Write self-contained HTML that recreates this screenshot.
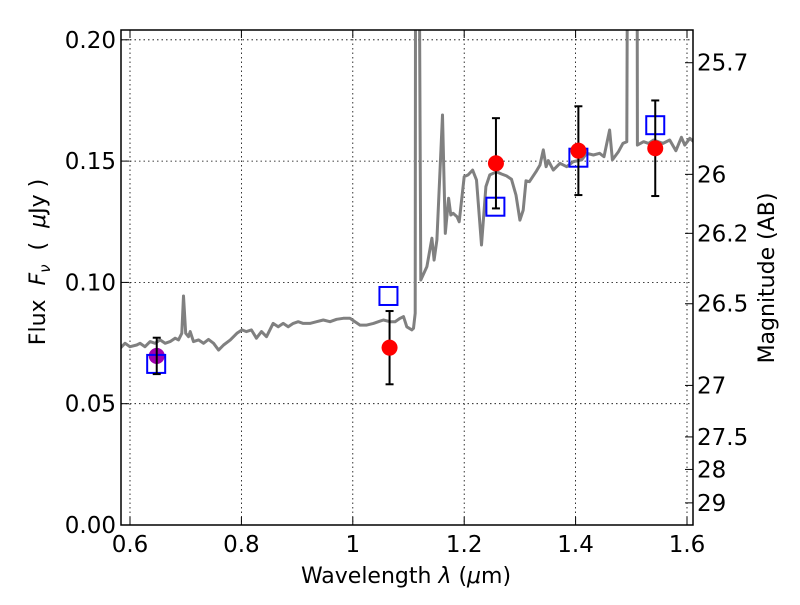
<!DOCTYPE html>
<html><head><meta charset="utf-8"><style>
body{margin:0;background:#fff}
svg text{font-family:"DejaVu Sans","Liberation Sans",sans-serif;fill:#000}
</style></head><body>
<svg id="chart" width="800" height="600" viewBox="0 0 800 600" xmlns="http://www.w3.org/2000/svg">
<defs><clipPath id="clip"><rect x="121" y="30" width="572" height="495"/></clipPath></defs>
<rect width="800" height="600" fill="#fff"/>
<g id="grid"></g>
<g id="spec" clip-path="url(#clip)"></g>
<g id="marks"></g>
<rect x="121" y="30" width="572" height="495" fill="none" stroke="#000" stroke-width="1.5"/>
<g id="axes"></g>
<text x="406" y="583" font-size="22" text-anchor="middle">Wavelength  <tspan font-style="italic">λ</tspan> (<tspan font-style="italic">μ</tspan>m)</text>
<text transform="translate(45,262) rotate(-90)" font-size="22" text-anchor="middle" xml:space="preserve">Flux  <tspan font-style="italic">F</tspan><tspan font-style="italic" font-size="15" dy="5">ν</tspan><tspan dy="-5">  (  </tspan><tspan font-style="italic">μ</tspan>Jy )</text>
<text transform="translate(774,278) rotate(-90)" font-size="22" text-anchor="middle">Magnitude (AB)</text>
</svg>
<script>
const specWave=[0.582,0.591,0.600,0.612,0.618,0.627,0.636,0.645,0.654,0.663,0.672,0.681,0.687,0.693,0.696,0.700,0.705,0.708,0.714,0.723,0.732,0.741,0.750,0.759,0.768,0.780,0.792,0.801,0.809,0.818,0.827,0.836,0.845,0.857,0.866,0.875,0.884,0.893,0.902,0.911,0.923,0.935,0.947,0.959,0.971,0.983,0.995,1.004,1.013,1.025,1.037,1.046,1.055,1.067,1.076,1.085,1.091,1.097,1.106,1.109,1.112,1.113,1.118,1.122,1.133,1.142,1.146,1.151,1.161,1.166,1.172,1.176,1.180,1.187,1.191,1.200,1.207,1.215,1.222,1.231,1.239,1.246,1.258,1.267,1.276,1.285,1.293,1.300,1.306,1.311,1.317,1.330,1.336,1.342,1.347,1.351,1.360,1.372,1.384,1.396,1.411,1.420,1.432,1.443,1.451,1.461,1.466,1.477,1.485,1.492,1.494,1.510,1.511,1.522,1.531,1.540,1.557,1.569,1.580,1.590,1.596,1.605,1.612];
const specFlux=[0.0728,0.0749,0.0735,0.0742,0.0749,0.0735,0.0756,0.0749,0.0763,0.0749,0.0756,0.0770,0.0763,0.0790,0.0944,0.0790,0.0776,0.0797,0.0756,0.0763,0.0749,0.0765,0.0749,0.0721,0.0742,0.0763,0.0790,0.0804,0.0797,0.0804,0.0770,0.0797,0.0776,0.0831,0.0817,0.0831,0.0817,0.0831,0.0838,0.0831,0.0831,0.0838,0.0845,0.0838,0.0848,0.0852,0.0852,0.0838,0.0824,0.0824,0.0831,0.0838,0.0845,0.0838,0.0838,0.0852,0.0859,0.0817,0.0804,0.0811,0.0873,0.30,0.30,0.101,0.1065,0.1182,0.1092,0.1175,0.169,0.1202,0.1347,0.1278,0.1285,0.1271,0.125,0.1436,0.1443,0.1463,0.1422,0.1154,0.1395,0.1443,0.1456,0.1447,0.1439,0.1425,0.136,0.1257,0.1298,0.1419,0.1415,0.146,0.1484,0.1546,0.1477,0.1502,0.1463,0.1491,0.1477,0.1498,0.1505,0.1532,0.1525,0.1532,0.1518,0.1628,0.1505,0.1539,0.1573,0.158,0.30,0.30,0.1566,0.158,0.1573,0.1587,0.1573,0.1587,0.1543,0.1598,0.1566,0.1594,0.1580];
const obsWave=[1.066,1.257,1.405,1.543];
const obsFlux=[0.0731,0.1491,0.1543,0.1553];
const obsErr=[0.0151,0.0186,0.0183,0.0197];
const modelWave=[0.647,1.064,1.256,1.405,1.543];
const modelFlux=[0.0664,0.0944,0.1312,0.1514,0.1648];
const pWave=[0.648];
const pFlux=[0.0697];
const pErr=[0.0075];
const xTicks=[0.6,0.8,1.0,1.2,1.4,1.6];
const xTickLabels=["0.6","0.8","1","1.2","1.4","1.6"];
const yTicks=[0,0.05,0.10,0.15,0.20];
const yTickLabels=["0.00","0.05","0.10","0.15","0.20"];
const magTicks=[25.7,26,26.2,26.5,27,27.5,28,29];
const magTickLabels=["25.7","26","26.2","26.5","27","27.5","28","29"];

const X=v=>130+(v-0.6)*557;
const Y=v=>525-v*2426;
const NS='http://www.w3.org/2000/svg';
function mk(tag,attrs,parent){const e=document.createElementNS(NS,tag);for(const k in attrs)e.setAttribute(k,attrs[k]);parent.appendChild(e);return e;}
const grid=document.getElementById('grid'),axes=document.getElementById('axes'),spec=document.getElementById('spec'),marks=document.getElementById('marks');

xTicks.forEach((t,i)=>{
  const x=X(t);
  const g=mk('line',{x1:x,x2:x,y1:30,y2:525,stroke:'#000','stroke-width':0.8,'stroke-dasharray':'1.5,3'},grid);
  
  
  mk('line',{x1:x,x2:x,y1:525,y2:517,stroke:'#000'},axes);
  mk('line',{x1:x,x2:x,y1:30,y2:38,stroke:'#000'},axes);
  const tx=mk('text',{x:x,y:552,'font-size':23,'text-anchor':'middle'},axes);
  tx.textContent=xTickLabels[i];
  
  
});
yTicks.forEach((t,i)=>{
  const y=Y(t);
  const g=mk('line',{x1:121,x2:693,y1:y,y2:y,stroke:'#000','stroke-width':0.8,'stroke-dasharray':'1.5,3'},grid);
  
  
  mk('line',{x1:121,x2:129,y1:y,y2:y,stroke:'#000'},axes);
  const tx=mk('text',{x:116,y:y+8,'font-size':23,'text-anchor':'end'},axes);
  tx.textContent=yTickLabels[i];
  
  
});
magTicks.forEach((m,i)=>{
  const y=Y(Math.pow(10,(23.9-m)/2.5));
  mk('line',{x1:685,x2:693,y1:y,y2:y,stroke:'#000'},axes);
  const tx=mk('text',{x:697,y:y+8,'font-size':23},axes);
  tx.textContent=magTickLabels[i];
  
  
});

const pts=specWave.map((w,i)=>X(w).toFixed(1)+','+Y(specFlux[i]).toFixed(1)).join(' ');
const line=mk('polyline',{points:pts,fill:'none',stroke:'#808080','stroke-width':3,'stroke-linejoin':'round'},spec);



function errbar(w,f,e){
  const x=X(w),y1=Y(f+e),y2=Y(f-e);
  const g=mk('g',{stroke:'#000','stroke-width':2},marks);
  
  
  mk('line',{x1:x,x2:x,y1:y1,y2:y2},g);
  mk('line',{x1:x-4,x2:x+4,y1:y1,y2:y1},g);
  mk('line',{x1:x-4,x2:x+4,y1:y2,y2:y2},g);
}
pWave.forEach((w,i)=>{
  const c=mk('circle',{cx:X(w),cy:Y(pFlux[i]),r:8,fill:'#a000b0'},marks);
  
  
});
modelWave.forEach((w,i)=>{
  const r=mk('rect',{x:X(w)-9,y:Y(modelFlux[i])-9,width:18,height:18,fill:'none',stroke:'#0000ff','stroke-width':2},marks);
  
  
});
pWave.forEach((w,i)=>errbar(w,pFlux[i],pErr[i]));
obsWave.forEach((w,i)=>errbar(w,obsFlux[i],obsErr[i]));
obsWave.forEach((w,i)=>{
  const c=mk('circle',{cx:X(w),cy:Y(obsFlux[i]),r:8,fill:'#ff0000'},marks);
  
  
});
</script>
</body></html>
